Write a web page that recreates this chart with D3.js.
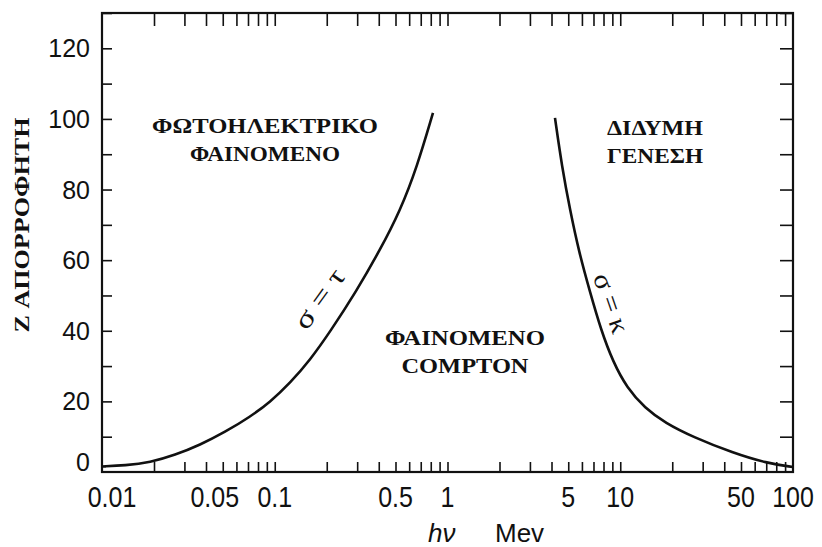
<!DOCTYPE html>
<html>
<head>
<meta charset="utf-8">
<script src="https://cdn.jsdelivr.net/npm/d3@7"></script>
<style>
body { margin: 0; background: #fff; }
</style>
</head>
<body>
<div id="chart"></div>
<script>
// σ = τ  boundary (photoelectric | Compton)
var tauEnergy = [0.01, 0.0136, 0.019, 0.0265, 0.0369, 0.0515, 0.0719, 0.0939, 0.1226, 0.16, 0.209, 0.295, 0.407, 0.531, 0.666, 0.824];
var tauZ      = [1.56, 1.84, 2.69, 4.81, 7.65, 11.3, 15.6, 19.8, 25.2, 31.7, 39.7, 51.0, 62.9, 73.9, 86.4, 101.7];

// σ = κ  boundary (Compton | pair production)
var kappaEnergy = [4.19, 4.60, 5.12, 5.77, 6.68, 7.74, 9.08, 10.94, 13.9, 18.2, 26.4, 45.0, 70.6, 100];
var kappaZ      = [100.3, 86.4, 74.2, 62.3, 51.0, 40.2, 31.2, 23.8, 18.1, 13.9, 9.9, 5.4, 2.5, 1.4];

var xTickLabels = [0.01, 0.05, 0.1, 0.5, 1, 5, 10, 50, 100];
var yTickLabels = [0, 20, 40, 60, 80, 100, 120];

var regionLabels = [
  { lines: ["ΦΩΤΟΗΛΕΚΤΡΙΚΟ", "ΦΑΙΝΟΜΕΝΟ"] },
  { lines: ["ΦΑΙΝΟΜΕΝΟ", "COMPTON"] },
  { lines: ["ΔΙΔΥΜΗ", "ΓΕΝΕΣΗ"] }
];

var w = 822, h = 547;
var plotL = 102, plotR = 793, plotT = 13, plotB = 472;

var svg = d3.select("#chart").append("svg")
    .attr("width", w)
    .attr("height", h);

var x = d3.scaleLog().domain([0.01, 100]).range([plotL, plotR]);
var y = d3.scaleLinear().domain([0, 130]).range([plotB, plotT]);

var sans = "'Liberation Sans', Arial, sans-serif";
var serif = "'Liberation Serif', 'Times New Roman', serif";

// minor ticks, all pointing inwards
var xMinor = x.ticks().filter(function(d) { return d > 0.0101 && d < 99; });
var yMinor = y.ticks(13).filter(function(d) { return d > 0; });

function clean(g) {
  g.select(".domain").remove();
  g.selectAll("line").attr("stroke", "#111").attr("stroke-width", 1.6);
}

svg.append("g")
   .attr("transform", "translate(0," + plotB + ")")
   .call(d3.axisBottom(x).tickValues(xMinor).tickSize(-10).tickFormat(""))
   .call(clean);

svg.append("g")
   .attr("transform", "translate(0," + plotT + ")")
   .call(d3.axisTop(x).tickValues(xMinor).tickSize(-13).tickFormat(""))
   .call(clean);

svg.append("g")
   .attr("transform", "translate(" + plotL + ",0)")
   .call(d3.axisLeft(y).tickValues(yMinor).tickSize(-10).tickFormat(""))
   .call(clean);

svg.append("g")
   .attr("transform", "translate(" + plotR + ",0)")
   .call(d3.axisRight(y).tickValues(yMinor).tickSize(-13).tickFormat(""))
   .call(clean);

// frame
svg.append("rect")
   .attr("x", plotL).attr("y", plotT)
   .attr("width", plotR - plotL).attr("height", plotB - plotT)
   .attr("fill", "none")
   .attr("stroke", "#111")
   .attr("stroke-width", 2.2);

// y tick labels
svg.selectAll(".ylab")
   .data(yTickLabels)
   .enter().append("text")
   .attr("class", "ylab")
   .attr("x", 90)
   .attr("y", function(d) { return y(d) + (d === 0 ? -10 : 0); })
   .attr("dy", "0.36em")
   .attr("text-anchor", "end")
   .attr("font-family", sans)
   .attr("font-size", 25)
   .attr("fill", "#111")
   .text(function(d) { return d; });

// x tick labels (the first two are nudged as in the original print)
var xNudge = { 0.01: 10, 0.05: -8 };
svg.selectAll(".xlab")
   .data(xTickLabels)
   .enter().append("text")
   .attr("class", "xlab")
   .attr("transform", function(d) {
     return "translate(" + (x(d) + (xNudge[d] || 0)) + ",507) scale(1,1.18)";
   })
   .attr("text-anchor", "middle")
   .attr("font-family", sans)
   .attr("font-size", 25)
   .attr("fill", "#111")
   .text(function(d) { return d; });

// x axis title
svg.append("text")
   .attr("x", 428).attr("y", 542)
   .attr("font-family", sans)
   .attr("font-size", 26)
   .attr("font-style", "italic")
   .attr("fill", "#111")
   .text("hν");

svg.append("text")
   .attr("x", 495).attr("y", 542)
   .attr("font-family", sans)
   .attr("font-size", 26)
   .attr("fill", "#111")
   .text("Mev");

// y axis title
svg.append("text")
   .attr("transform", "translate(29,225) rotate(-90)")
   .attr("text-anchor", "middle")
   .attr("font-family", serif)
   .attr("font-weight", "bold")
   .attr("font-size", 22)
   .attr("textLength", 215)
   .attr("lengthAdjust", "spacingAndGlyphs")
   .attr("fill", "#111")
   .text("Z ΑΠΟΡΡΟΦΗΤΗ");

// boundary curves
var line = d3.line()
    .x(function(d) { return x(d[0]); })
    .y(function(d) { return y(d[1]); })
    .curve(d3.curveBasis);

svg.append("path")
   .datum(d3.zip(tauEnergy, tauZ))
   .attr("d", line)
   .attr("fill", "none")
   .attr("stroke", "#111")
   .attr("stroke-width", 2.6);

svg.append("path")
   .datum(d3.zip(kappaEnergy, kappaZ))
   .attr("d", line)
   .attr("fill", "none")
   .attr("stroke", "#111")
   .attr("stroke-width", 2.6);

// curve labels
svg.append("text")
   .attr("transform", "translate(" + x(0.188) + "," + y(48.5) + ") rotate(-54)")
   .attr("text-anchor", "middle")
   .attr("dy", "0.2em")
   .attr("font-family", serif)
   .attr("font-size", 27)
   .attr("textLength", 68)
   .attr("lengthAdjust", "spacingAndGlyphs")
   .attr("fill", "#111")
   .text("σ = τ");

svg.append("text")
   .attr("transform", "translate(" + x(8.5) + "," + y(47.5) + ") rotate(71)")
   .attr("text-anchor", "middle")
   .attr("dy", "0.2em")
   .attr("font-family", serif)
   .attr("font-size", 27)
   .attr("textLength", 62)
   .attr("lengthAdjust", "spacingAndGlyphs")
   .attr("fill", "#111")
   .text("σ = κ");

// region labels
var regionPos = [
  { cx: 265, y0: 133, widths: [226, 150] },
  { cx: 465, y0: 345, widths: [160, 127] },
  { cx: 655, y0: 135, widths: [96, 96] }
];

regionLabels.forEach(function(r, i) {
  var p = regionPos[i];
  r.lines.forEach(function(t, j) {
    svg.append("text")
       .attr("x", p.cx)
       .attr("y", p.y0 + j * 28)
       .attr("text-anchor", "middle")
       .attr("font-family", serif)
       .attr("font-weight", "bold")
       .attr("font-size", 20)
       .attr("textLength", p.widths[j])
       .attr("lengthAdjust", "spacingAndGlyphs")
       .attr("fill", "#111")
       .text(t);
  });
});
</script>
</body>
</html>
